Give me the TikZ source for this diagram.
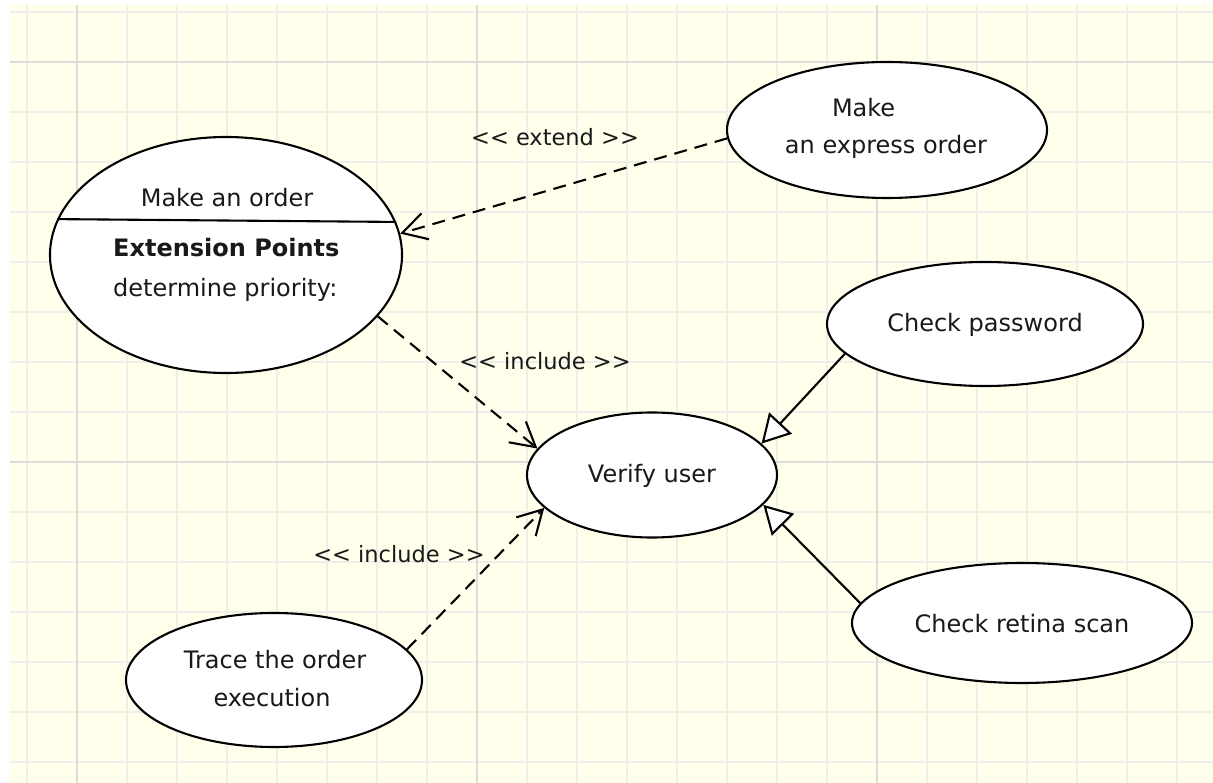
\documentclass[tikz,border=0pt]{standalone}
\usepackage{fontspec}
\newfontfamily\uifont{DejaVu Sans}
\usetikzlibrary{shapes.geometric,arrows.meta}

\definecolor{paper}{RGB}{255,255,236}
\definecolor{gridminor}{RGB}{239,239,233}
\definecolor{gridmajor}{RGB}{220,220,216}
\definecolor{ink}{RGB}{25,25,25}

\tikzset{
  usecase/.style={ellipse, draw=black, fill=white, line width=2.1pt, inner sep=0pt},
  lbl/.style={anchor=base, inner sep=0pt, text=ink, font=\uifont\fontsize{24}{29}\selectfont},
  stereo/.style={lbl, font=\uifont\fontsize{22.5}{27}\selectfont},
  dep/.style={line width=2.1pt, dash pattern=on 13pt off 8pt,
    -{Straight Barb[length=24pt,width=27pt]}},
  gen/.style={line width=2.1pt, line join=miter,
    -{Triangle[length=28pt,width=31pt,fill=white]}},
  minorline/.style={draw=gridminor, line width=1.5pt},
  majorline/.style={draw=gridmajor, line width=1.5pt},
}

\begin{document}
\begin{tikzpicture}[x=1pt,y=-1pt]
  % canvas and grid
  \useasboundingbox (0,0) rectangle (1213,783);
  \fill[white] (0,0) rectangle (1213,783);
  \fill[paper] (10,5) rectangle (1213,783);
  \foreach \gx in {27,77,...,1177} \draw[minorline] (\gx,5) -- (\gx,783);
  \foreach \gy in {12,62,...,762} \draw[minorline] (10,\gy) -- (1213,\gy);
  \foreach \gx in {77,477,877} \draw[majorline] (\gx,5) -- (\gx,783);
  \foreach \gy in {62,462} \draw[majorline] (10,\gy) -- (1213,\gy);

  % use cases
  \node[usecase, minimum width=352pt, minimum height=236pt] (order)    at (226,255) {};
  \node[usecase, minimum width=320pt, minimum height=136pt] (express)  at (887,130) {};
  \node[usecase, minimum width=316pt, minimum height=124pt] (password) at (985,324) {};
  \node[usecase, minimum width=250pt, minimum height=125pt] (verify)   at (652,475) {};
  \node[usecase, minimum width=340pt, minimum height=120pt] (retina)   at (1022,623) {};
  \node[usecase, minimum width=296pt, minimum height=134pt] (trace)    at (274,680) {};

  % compartment line of the extended use case
  \draw[line width=2.1pt] (order.168.95) -- (order.11.05);

  % use case texts
  \node[lbl] (tOrder)  at (227,207) {Make an order};
  \node[lbl, anchor=base west] (tExt)  at (113,257) {\bfseries Extension Points};
  \node[lbl, anchor=base west] (tPrio) at (113,297) {determine priority:};
  \node[lbl] (tExp1)   at (880,117) {\makebox[96pt][l]{Make}};
  \node[lbl] (tExp2)   at (886,154) {an express order};
  \node[lbl] (tPass)   at (985,332) {Check password};
  \node[lbl] (tVerify) at (652,482) {Verify user};
  \node[lbl] (tRetina) at (1022,632) {Check retina scan};
  \node[lbl] (tTrace1) at (275,668) {Trace the order};
  \node[lbl] (tTrace2) at (272,706) {execution};

  % relationships
  \draw[dep] (express.183) -- (order.7.6);
  \draw[dep] (order.-22.2) -- (verify.167.7);
  \draw[dep] (trace.13.5) -- (verify.-163.8);
  \draw[gen] (password.192.2) -- (verify.16.5);
  \draw[gen] (retina.173) -- (verify.-15.1);

  % stereotype labels
  \node[stereo] (lExtend)   at (555,146) {<< extend >>};
  \node[stereo] (lInclude1) at (545,370) {<< include >>};
  \node[stereo] (lInclude2) at (399,562) {<< include >>};
\end{tikzpicture}
\end{document}
